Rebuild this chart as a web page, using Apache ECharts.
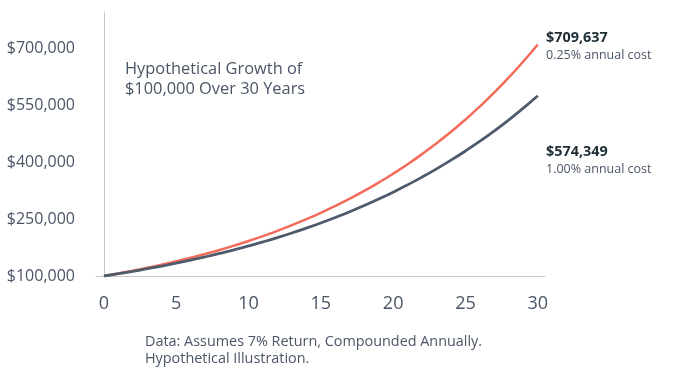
<!DOCTYPE html>
<html>
<head>
<meta charset="utf-8">
<script src="https://cdn.jsdelivr.net/npm/echarts@6/dist/echarts.min.js"></script>
<style>
html,body{margin:0;padding:0;background:#fff;}
#chart{width:700px;height:379px;}
</style>
</head>
<body>
<div id="chart"></div>
<script>
var years = [0,1,2,3,4,5,6,7,8,9,10,11,12,13,14,15,16,17,18,19,20,21,22,23,24,25,26,27,28,29,30];
var lowCost = [100000,106750,113956,121648,129859,138624,147982,157970,168633,180016,192170,205141,218988,233770,249549,266394,284376,303571,324062,345936,369287,394214,420823,449229,479552,511922,546477,583364,622741,664776,709637];
var highCost = [100000,106000,112360,119102,126248,133823,141852,150363,159385,168948,179085,189830,201220,213293,226090,239656,254035,269277,285434,302560,320714,339956,360354,381975,404893,429187,454938,482235,511169,541839,574349];
var xTicks = [0,5,10,15,20,25,30];
var yTicks = [100000,250000,400000,550000,700000];
var lowLabel = ['$709,637','0.25% annual cost'];
var highLabel = ['$574,349','1.00% annual cost'];
var titleText = 'Hypothetical Growth of\n$100,000 Over 30 Years';
var noteText = 'Data: Assumes 7% Return, Compounded Annually.\nHypothetical Illustration.';

function pairs(vals){ return years.map(function(y,i){ return [y, vals[i]]; }); }
function fmt(v){ return '$' + v.toLocaleString('en-US'); }

var font = '"Open Sans", "Noto Sans", sans-serif';
var chart = echarts.init(document.getElementById('chart'), null, {renderer:'canvas'});
chart.setOption({
  animation:false,
  grid:{left:96, right:155, top:12, bottom:103, containLabel:false},
  xAxis:{
    type:'value', min:-0.55, max:30.5,
    axisLine:{show:true, lineStyle:{color:'#c8c8c8', width:1}},
    axisTick:{show:false},
    splitLine:{show:false},
    axisLabel:{customValues:xTicks, color:'#4a5566', fontSize:18, fontFamily:font, margin:19}
  },
  yAxis:{
    type:'value', min:100000, max:795000,
    axisLine:{show:true, lineStyle:{color:'#c8c8c8', width:1}},
    axisTick:{show:false},
    splitLine:{show:false},
    axisLabel:{customValues:yTicks, formatter:fmt, color:'#4a5566', fontSize:16, fontFamily:font, margin:21}
  },
  series:[
    {type:'line', data:pairs(lowCost), smooth:true, showSymbol:false, lineStyle:{color:'#f36b5a', width:2.5}, z:2},
    {type:'line', data:pairs(highCost), smooth:true, showSymbol:false, lineStyle:{color:'#4e5b6c', width:2.8}, z:3}
  ],
  graphic:[
    {type:'text', left:125, top:60, style:{text:titleText, fill:'#4a5566', font:'16.4px '+font, lineHeight:19.5}},
    {type:'text', left:145, top:333, style:{text:noteText, fill:'#4a5566', font:'14.4px '+font, lineHeight:17}},
    {type:'text', left:546, top:31, style:{text:lowLabel[0], fill:'#1e2d36', font:'bold 14.4px '+font}},
    {type:'text', left:546, top:49, style:{text:lowLabel[1], fill:'#4a5566', font:'12.5px '+font}},
    {type:'text', left:546, top:145, style:{text:highLabel[0], fill:'#1e2d36', font:'bold 14.4px '+font}},
    {type:'text', left:546, top:163, style:{text:highLabel[1], fill:'#4a5566', font:'12.5px '+font}}
  ]
});
</script>
</body>
</html>
